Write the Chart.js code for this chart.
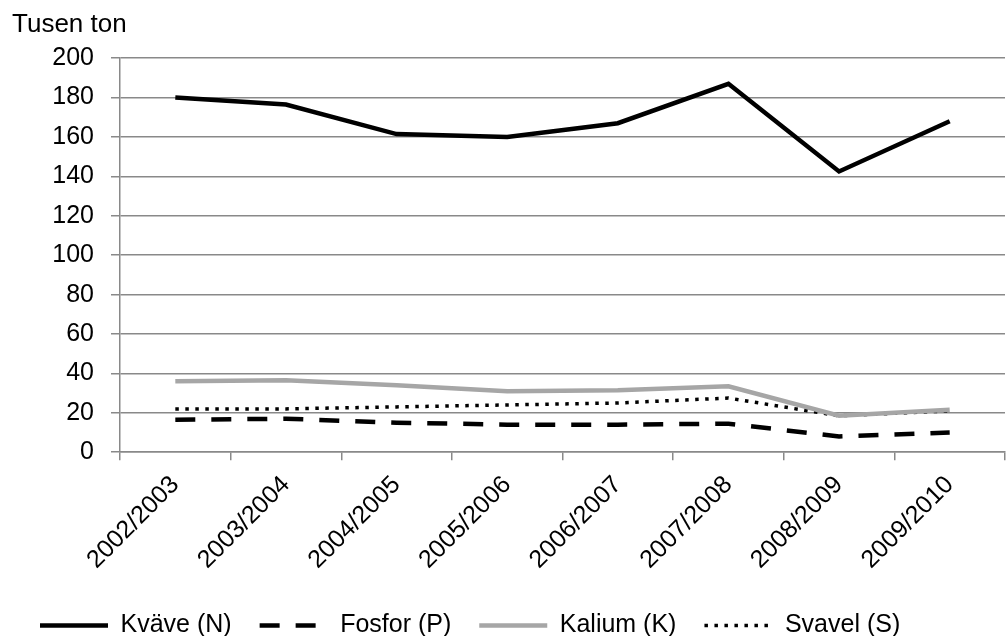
<!DOCTYPE html>
<html>
<head>
<meta charset="utf-8">
<script src="https://cdn.jsdelivr.net/npm/chart.js@4/dist/chart.umd.min.js"></script>
<style>
  html, body { margin: 0; padding: 0; background: #fff; }
  #wrap { width: 1008px; height: 636px; }
</style>
</head>
<body>
<div id="wrap"><canvas id="chart" width="1008" height="636"></canvas></div>
<script>
// Gödsel: försålda mängder per säsong (tusen ton)
var seasons = ['2002/2003', '2003/2004', '2004/2005', '2005/2006',
               '2006/2007', '2007/2008', '2008/2009', '2009/2010'];
var kvave  = [180, 176.5, 161.5, 160, 167, 187, 142.5, 168];
var fosfor = [16.5, 17, 15, 14, 14, 14.5, 8, 10];
var kalium = [36, 36.5, 34, 31, 31.5, 33.5, 18.5, 21.5];
var svavel = [22, 22, 23, 24, 25, 27.5, 18.5, 21];
var yTicks = [0, 20, 40, 60, 80, 100, 120, 140, 160, 180, 200];

var GRID = '#898989';
var FONT = "'Liberation Sans', Arial, sans-serif";

Chart.defaults.font.family = FONT;
Chart.defaults.color = '#000';

function lineSet(label, data, color, width, dash) {
  return {
    label: label,
    data: data,
    borderColor: color,
    backgroundColor: color,
    borderWidth: width,
    borderDash: dash,
    pointRadius: 0,
    pointHoverRadius: 0,
    tension: 0,
    fill: false
  };
}

// legend samples as plain line strokes, dash pattern taken from the dataset
function legendLabels(chart) {
  return chart.data.datasets.map(function(ds, i) {
    return {
      text: ds.label,
      fillStyle: ds.borderColor,
      strokeStyle: ds.borderColor,
      lineWidth: ds.borderWidth,
      lineDash: ds.borderDash,
      lineCap: 'butt',
      pointStyle: 'line',
      fontColor: '#000',
      hidden: false,
      datasetIndex: i
    };
  });
}

var ctx = document.getElementById('chart');
new Chart(ctx, {
  type: 'line',
  data: {
    labels: seasons,
    datasets: [
      lineSet('Kväve (N)', kvave, '#000000', 4.5, []),
      lineSet('Fosfor (P)', fosfor, '#000000', 4.5, [20, 16]),
      lineSet('Kalium (K)', kalium, '#a6a6a6', 4.5, []),
      lineSet('Svavel (S)', svavel, '#000000', 3.5, [3.5, 6.5])
    ]
  },
  options: {
    responsive: false,
    animation: false,
    layout: { padding: { left: 12, right: 3, top: 0, bottom: -12 } },
    scales: {
      x: {
        offset: true,
        grid: { offset: true, drawOnChartArea: false, drawTicks: true, tickLength: 8, color: GRID, lineWidth: 1.5 },
        border: { display: true, color: GRID, width: 1.5 },
        ticks: { minRotation: 45, maxRotation: 45, font: { size: 25 }, color: '#000', padding: 10 }
      },
      y: {
        min: 0,
        max: 200,
        afterBuildTicks: function(scale) {
          scale.ticks = yTicks.map(function(v) { return { value: v }; });
        },
        afterFit: function(scale) { scale.width = 108; },
        grid: { color: GRID, lineWidth: 1.5, tickLength: 9 },
        border: { display: true, color: GRID, width: 1.5 },
        ticks: { font: { size: 25 }, color: '#000', padding: 17 }
      }
    },
    plugins: {
      title: {
        display: true,
        text: 'Tusen ton',
        align: 'start',
        color: '#000',
        font: { size: 26, weight: 'normal' },
        padding: { top: 9, bottom: 18 }
      },
      legend: {
        position: 'bottom',
        align: 'start',
        labels: {
          usePointStyle: true,
          pointStyle: 'line',
          pointStyleWidth: 68,
          padding: 28,
          color: '#000',
          font: { size: 25 },
          generateLabels: legendLabels
        }
      },
      tooltip: { enabled: false }
    }
  }
});
</script>
</body>
</html>
